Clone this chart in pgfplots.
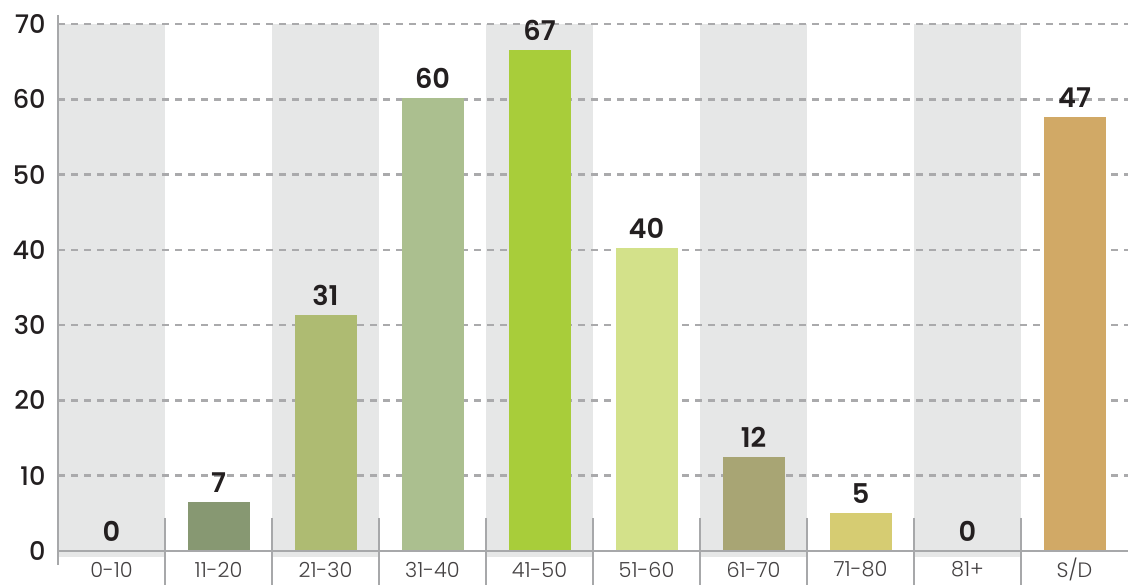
\documentclass[border=0pt]{standalone}
\usepackage{pgfplots}
\pgfplotsset{compat=1.18}
\usepackage{fontspec}
\setmainfont{Poppins}
\IfFontExistsTF{Poppins Medium}{\newfontfamily\medfont{Poppins Medium}}{\newfontfamily\medfont{Poppins}}
\IfFontExistsTF{Poppins SemiBold}{\newfontfamily\semifont{Poppins SemiBold}}{\newfontfamily\semifont{Poppins}[FakeBold=1]}
\IfFontExistsTF{Poppins Light}{\newfontfamily\lightfont{Poppins Light}}{\newfontfamily\lightfont{Poppins}}

\definecolor{band}{HTML}{E6E7E7}
\definecolor{axisgray}{HTML}{A7A8AA}
\definecolor{gridgray}{HTML}{AAAAAC}
\definecolor{txt}{HTML}{231F20}
\definecolor{cA}{HTML}{879872}
\definecolor{cB}{HTML}{AEBB72}
\definecolor{cC}{HTML}{ABBF8F}
\definecolor{cD}{HTML}{A8CD3A}
\definecolor{cE}{HTML}{D3E18A}
\definecolor{cF}{HTML}{A8A574}
\definecolor{cG}{HTML}{D6CC72}
\definecolor{cH}{HTML}{D1A966}

\begin{document}
\begin{tikzpicture}
\begin{axis}[
  set layers,
  at={(0,0)}, anchor=south west,
  width=535pt, height=268pt, scale only axis,
  ybar, bar width=31pt, bar shift=0pt,
  xmin=-0.5, xmax=9.5, ymin=0, ymax=71.2,
  clip=false,
  axis line style={draw=none},
  major tick length=0pt,
  ytick={0,10,...,70},
  xtick={0,...,9},
  xticklabels={0-10,11-20,21-30,31-40,41-50,51-60,61-70,71-80,81+,S/D},
  ymajorgrids,
  grid style={gridgray, line width=1.3pt, dash pattern=on 3.5pt off 3pt},
  /pgf/number format/assume math mode=true,
  yticklabel style={font=\medfont\fontsize{12.8}{12.8}\selectfont, text=txt, anchor=east, inner sep=0pt, xshift=-6pt},
  xticklabel style={font=\lightfont\fontsize{10.4}{10.4}\selectfont, text=txt!85, anchor=center, inner sep=0pt, yshift=-9.3pt},
  point meta=explicit symbolic,
  nodes near coords,
  every node near coord/.append style={font=\semifont\fontsize{13.6}{13.6}\selectfont, text=txt, anchor=south, inner sep=0pt, yshift=4.5pt},
]
\addplot[draw=none, fill=white, bar shift=0pt] coordinates {(0,0) [0]};
\addplot[draw=none, fill=cA, bar shift=0pt] coordinates {(1,6.5) [7]};
\addplot[draw=none, fill=cB, bar shift=0pt] coordinates {(2,31.3) [31]};
\addplot[draw=none, fill=cC, bar shift=0pt] coordinates {(3,60.2) [60]};
\addplot[draw=none, fill=cD, bar shift=0pt] coordinates {(4,66.6) [67]};
\addplot[draw=none, fill=cE, bar shift=0pt] coordinates {(5,40.3) [40]};
\addplot[draw=none, fill=cF, bar shift=0pt] coordinates {(6,12.5) [12]};
\addplot[draw=none, fill=cG, bar shift=0pt] coordinates {(7,5.0) [5]};
\addplot[draw=none, fill=white, bar shift=0pt] coordinates {(8,0) [0]};
\addplot[draw=none, fill=cH, bar shift=0pt] coordinates {(9,57.7) [47]};
% alternating background bands
\begin{pgfonlayer}{axis background}
\fill[band] (axis cs:-0.5,-0.8) rectangle (axis cs:0.5,70);
\fill[band] (axis cs:1.5,-0.8) rectangle (axis cs:2.5,70);
\fill[band] (axis cs:3.5,-0.8) rectangle (axis cs:4.5,70);
\fill[band] (axis cs:5.5,-0.8) rectangle (axis cs:6.5,70);
\fill[band] (axis cs:7.5,-0.8) rectangle (axis cs:8.5,70);
\end{pgfonlayer}
% axis lines and category separators
\draw[axisgray, line width=1.3pt] (axis cs:-0.5,0) -- (axis cs:9.5,0);
\draw[axisgray, line width=1.35pt] (axis cs:-0.5,71.2) -- (axis cs:-0.5,-1.9);
\draw[axisgray, line width=1.2pt]
  (axis cs:0.5,4.4) -- (axis cs:0.5,-4.6)
  (axis cs:1.5,4.4) -- (axis cs:1.5,-4.6)
  (axis cs:2.5,4.4) -- (axis cs:2.5,-4.6)
  (axis cs:3.5,4.4) -- (axis cs:3.5,-4.6)
  (axis cs:4.5,4.4) -- (axis cs:4.5,-4.6)
  (axis cs:5.5,4.4) -- (axis cs:5.5,-4.6)
  (axis cs:6.5,4.4) -- (axis cs:6.5,-4.6)
  (axis cs:7.5,4.4) -- (axis cs:7.5,-4.6)
  (axis cs:8.5,4.4) -- (axis cs:8.5,-4.6);
\end{axis}
\pgfresetboundingbox
\useasboundingbox (-29pt,-16.5pt) rectangle (535pt,275.5pt);
\end{tikzpicture}
\end{document}
